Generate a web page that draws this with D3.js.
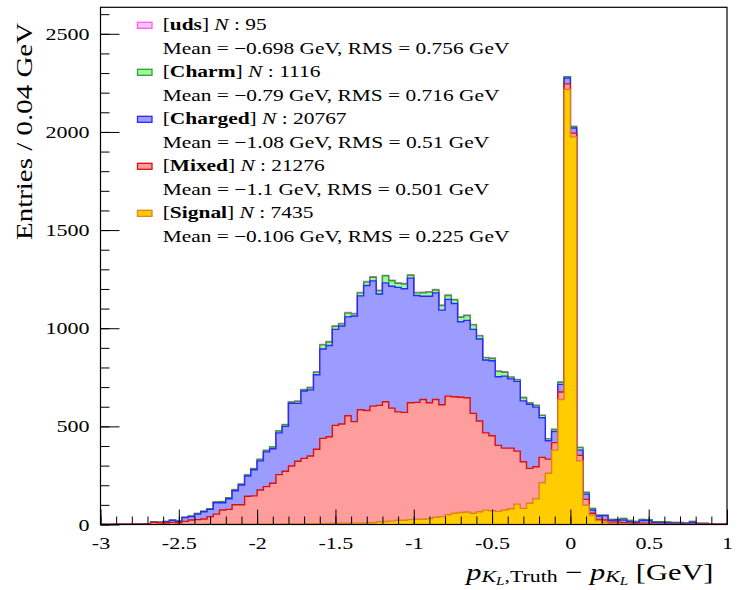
<!DOCTYPE html>
<html><head><meta charset="utf-8">
<script src="https://cdn.jsdelivr.net/npm/d3@7"></script>
<style>body{margin:0;background:#fff} svg{display:block}</style>
</head><body>
<svg id="c" width="739" height="590"></svg>
<script>
// ---------------- data ----------------
const xMin = -3, xMax = 1, binWidth = 0.04;

const signal = [0,0,0,0,0,0,0,0,0,0,
 0,0,0,0,0,0,0,1,1,1,
 1,1,1,1,2,2,2,2,2,3,
 3,3,3,4,4,4,5,5,6,6,
 7,7,8,9,14,15,17,22,22,25,
 27,27,30,37,40,50,57,61,64,57,
 65,73,70,67,74,80,104,82,108,131,
 213,261,379,637,2216,1975,325,99,48,20,
 11,6,6,3,2,2,1,1,1,1,
 0,0,0,0,0,0,0,0,0,0];

const mixed = [0,0,0,1,1,1,2,2,11,9,
 8,11,9,16,23,25,28,39,52,73,
 76,100,100,143,144,174,191,208,252,268,
 295,319,334,345,379,435,442,500,506,548,
 517,578,573,594,593,610,576,552,549,595,
 595,610,590,600,570,604,594,587,582,509,
 462,394,382,336,315,309,270,238,178,163,
 129,72,38,38,29,19,27,29,9,6,
 12,5,7,6,5,3,6,4,2,2,
 2,2,2,1,2,1,1,1,0,1];

const charged = [0,0,1,0,1,1,1,2,1,2,
 6,10,7,19,17,28,37,37,58,37,
 54,71,100,103,133,148,177,176,213,229,
 319,295,343,337,380,455,465,489,499,504,
 538,580,637,638,567,606,621,634,630,635,
 545,526,543,543,482,493,475,385,394,428,
 418,371,382,350,367,353,355,310,326,304,
 202,94,57,39,30,26,27,27,17,17,
 22,9,10,14,7,5,13,15,8,7,
 7,5,4,4,8,3,3,1,2,1];

const charm = [0,0,0,0,0,1,0,0,1,1,
 1,2,2,2,3,3,3,4,4,5,
 5,5,4,6,5,7,7,9,9,8,
 6,10,7,11,12,21,18,16,11,19,
 11,15,17,19,17,36,28,21,24,15,
 13,18,21,15,23,20,19,23,24,23,
 16,12,12,27,20,9,9,16,7,9,
 12,9,10,11,7,8,13,8,8,4,
 3,6,3,8,6,6,6,4,3,4,
 4,3,4,3,6,2,2,1,1,1];

const uds = [0,0,0,0,0,0,0,0,0,0,
 0,0,0,0,0,0,0,0,1,1,
 1,1,2,1,2,2,2,1,2,2,
 2,2,1,2,3,2,3,2,2,3,
 2,2,3,2,3,2,3,2,3,2,
 2,3,2,2,3,2,2,2,3,2,
 2,1,2,2,2,1,1,2,1,1,
 1,1,1,1,0,0,1,1,0,0,
 0,0,0,0,0,0,0,0,0,0,
 0,0,0,0,0,0,0,0,0,0];

// stacking order bottom -> top
const stackKeys = ["Signal", "Mixed", "Charged", "Charm", "uds"];
const stackValues = [signal, mixed, charged, charm, uds];

// legend (top -> bottom)
const legendNames = ["uds", "Charm", "Charged", "Mixed", "Signal"];
const legendN     = ["95", "1116", "20767", "21276", "7435"];
const legendMean  = ["\u22120.698", "\u22120.79", "\u22121.08", "\u22121.1", "\u22120.106"];
const legendRMS   = ["0.756", "0.716", "0.51", "0.501", "0.225"];

const xTicks = [-3, -2.5, -2, -1.5, -1, -0.5, 0, 0.5, 1];
const yTicks = [0, 500, 1000, 1500, 2000, 2500];
const yMax = 2635;

// ---------------- styles ----------------
const fills   = {uds:"#ffc4fb", Charm:"#9cfa9c", Charged:"#9c9cff", Mixed:"#ff9c9c", Signal:"#ffcc00"};
const strokes = {uds:"#ff5cf5", Charm:"#30a030", Charged:"#2828ff", Mixed:"#dd0f0f", Signal:"#e0801e"};
const FONT = "'Liberation Serif', 'Times New Roman', serif";

const svg = d3.select("#c");
const M = {l:100.5, r:727, t:7.3, b:524.5};
const x = d3.scaleLinear().domain([xMin, xMax]).range([M.l, M.r]);
const y = d3.scaleLinear().domain([0, yMax]).range([M.b, M.t]);

// rows for d3.stack
const rows = signal.map((_, i) => {
  const r = {lo: xMin + i * binWidth};
  stackKeys.forEach((k, j) => r[k] = stackValues[j][i]);
  return r;
});
const stacked = d3.stack().keys(stackKeys)(rows);

svg.append("defs").append("clipPath").attr("id", "pc")
  .append("rect").attr("x", M.l).attr("y", M.t).attr("width", M.r - M.l).attr("height", M.b - M.t);

const plot = svg.append("g").attr("clip-path", "url(#pc)");

function stepPts(layer) {
  const pts = [];
  layer.forEach(d => {
    pts.push([d.data.lo, d[1]]);
    pts.push([d.data.lo + binWidth, d[1]]);
  });
  return pts;
}
const area = d3.area().x(p => x(p[0])).y0(y(0)).y1(p => y(p[1]));
const line = d3.line().x(p => x(p[0])).y(p => y(p[1]));

// draw from top of stack (cumulative total) down to the bottom layer
for (let j = stacked.length - 1; j >= 0; j--) {
  const key = stackKeys[j];
  const pts = stepPts(stacked[j]);
  plot.append("path").attr("d", area(pts)).attr("fill", fills[key]).attr("stroke", "none");
  const outline = [[xMin, 0]].concat(pts, [[xMax, 0]]);
  plot.append("path").attr("d", line(outline)).attr("fill", "none")
    .attr("stroke", strokes[key]).attr("stroke-width", 1.4).attr("stroke-linejoin", "miter");
}

// ---------------- axes ----------------
const ax = svg.append("g").attr("font-family", FONT);
const TICK_FS = 17.5, TICK_SX = 1.26;

// x axis minor ticks
const xMinor = d3.range(-30, 11).map(v => v / 10);
ax.append("g").attr("transform", `translate(0,${M.b})`)
  .call(d3.axisBottom(x).tickValues(xMinor).tickSizeInner(-8).tickSizeOuter(0).tickFormat(""))
  .call(g => g.select(".domain").remove());
ax.append("g").attr("transform", `translate(0,${M.b})`)
  .call(d3.axisBottom(x).tickValues(xTicks).tickSizeInner(-15).tickSizeOuter(0).tickPadding(12.5).tickFormat(d => String(d)))
  .call(g => g.select(".domain").remove())
  .call(g => g.selectAll("text").attr("font-size", TICK_FS).attr("font-family", FONT).attr("fill", "#000")
      .attr("transform", `scale(${TICK_SX},1)`));

// y axis minor ticks
const yMinor = d3.range(0, 2700, 100);
ax.append("g").attr("transform", `translate(${M.l},0)`)
  .call(d3.axisLeft(y).tickValues(yMinor).tickSizeInner(-9).tickSizeOuter(0).tickFormat(""))
  .call(g => g.select(".domain").remove());
ax.append("g").attr("transform", `translate(${M.l},0)`)
  .call(d3.axisLeft(y).tickValues(yTicks).tickSizeInner(-19).tickSizeOuter(0).tickPadding(11).tickFormat(d => String(d)))
  .call(g => g.select(".domain").remove())
  .call(g => g.selectAll("text").attr("font-size", TICK_FS).attr("font-family", FONT).attr("fill", "#000")
      .attr("x", -11 / TICK_SX).attr("transform", `scale(${TICK_SX},1)`));

ax.selectAll(".tick line").attr("stroke", "#000").attr("stroke-width", 1);

// frame
svg.append("rect").attr("x", M.l).attr("y", M.t).attr("width", M.r - M.l).attr("height", M.b - M.t)
  .attr("fill", "none").attr("stroke", "#000").attr("stroke-width", 1.2);

// helper: stretch a text along its direction to a target width
function stretch(sel, x0, y0, target, rot) {
  sel.attr("x", 0).attr("y", 0);
  const w = sel.node().getBBox().width;
  const s = target / w;
  sel.attr("transform", `translate(${x0},${y0})${rot ? ` rotate(${rot})` : ""} scale(${s.toFixed(4)},1)`);
}

// y title
const yt = svg.append("text").attr("font-family", FONT).attr("font-size", 24)
  .attr("text-anchor", "start").text("Entries / 0.04 GeV");
stretch(yt, 32, 240, 218, -90);

// x title
const xt = svg.append("text").attr("font-family", FONT).attr("font-size", 23)
  .attr("text-anchor", "end");
xt.append("tspan").attr("font-style", "italic").text("p");
xt.append("tspan").attr("font-style", "italic").attr("font-size", 16.5).attr("dy", 2).text("K");
xt.append("tspan").attr("font-style", "italic").attr("font-size", 11.5).attr("dy", 2.5).text("L");
xt.append("tspan").attr("font-size", 16.5).attr("dy", -2.5).text(",Truth");
xt.append("tspan").attr("dy", -2).text(" \u2212 ");
xt.append("tspan").attr("font-style", "italic").text("p");
xt.append("tspan").attr("font-style", "italic").attr("font-size", 16.5).attr("dy", 2).text("K");
xt.append("tspan").attr("font-style", "italic").attr("font-size", 11.5).attr("dy", 2.5).text("L");
xt.append("tspan").attr("dy", -4.5).text(" [GeV]");
stretch(xt, 713.5, 580, 250, 0);

// ---------------- legend ----------------
const legX = 137.5, legTextX = 162.7, legY0 = 25.3, legStep = 47;
const line1W = [104, 158, 184, 162, 151];
const line2W = [347, 337, 327, 327, 347];
const LEG_FS = 16.5;
legendNames.forEach((name, i) => {
  const cy = legY0 + i * legStep;
  svg.append("rect").attr("x", legX).attr("y", cy - 3).attr("width", 14.5).attr("height", 6)
    .attr("fill", fills[name]).attr("stroke", strokes[name]).attr("stroke-width", 1.3);
  const t1 = svg.append("text").attr("font-family", FONT).attr("font-size", LEG_FS);
  t1.append("tspan").text("[");
  t1.append("tspan").attr("font-weight", "bold").text(name);
  t1.append("tspan").text("] ");
  t1.append("tspan").attr("font-style", "italic").text("N");
  t1.append("tspan").text(" : " + legendN[i]);
  stretch(t1, legTextX, cy + 5, line1W[i], 0);
  const t2 = svg.append("text").attr("font-family", FONT).attr("font-size", LEG_FS)
    .text(`Mean = ${legendMean[i]} GeV, RMS = ${legendRMS[i]} GeV`);
  stretch(t2, legTextX, cy + 28.5, line2W[i], 0);
});
</script>
</body></html>
